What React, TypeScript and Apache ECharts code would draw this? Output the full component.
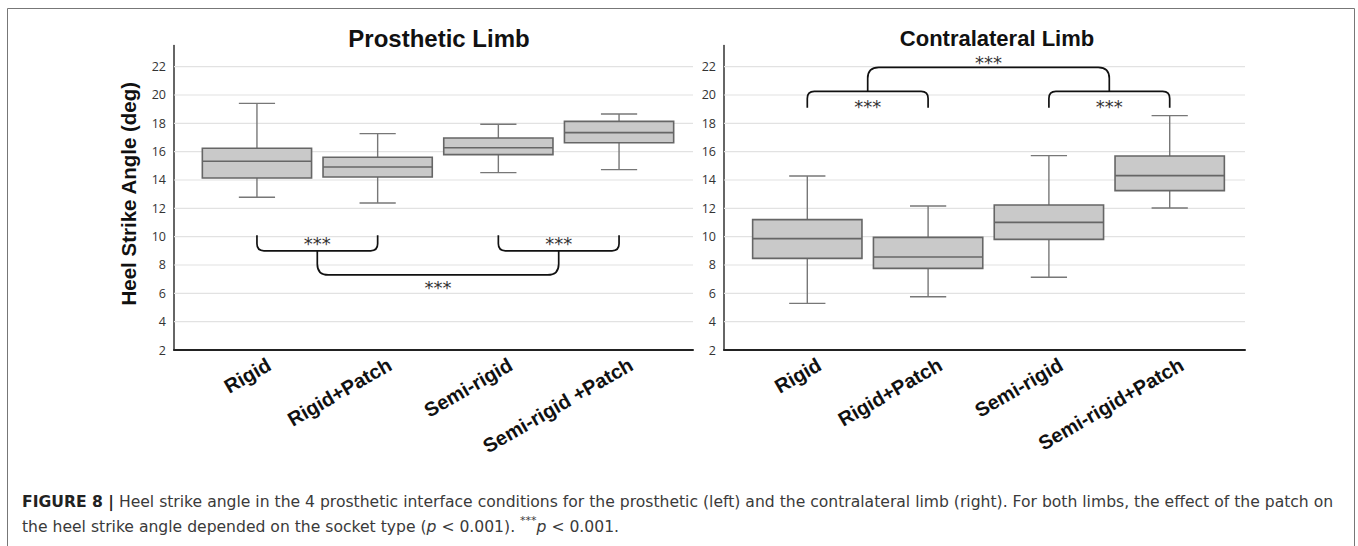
import React, { useEffect, useRef } from "react";
import * as echarts from "echarts";

// ---------- data ----------
const categoriesProsthetic = ["Rigid", "Rigid+Patch", "Semi-rigid", "Semi-rigid +Patch"];
const categoriesContralateral = ["Rigid", "Rigid+Patch", "Semi-rigid", "Semi-rigid+Patch"];
const yTicks = [2, 4, 6, 8, 10, 12, 14, 16, 18, 20, 22];
const yMin = 2;
const yMax = 23.5;

// Prosthetic limb: whisker low, Q1, median, Q3, whisker high
const prosLow = [12.78, 12.38, 14.52, 14.73];
const prosQ1 = [14.14, 14.21, 15.79, 16.63];
const prosMed = [15.32, 14.92, 16.28, 17.34];
const prosQ3 = [16.24, 15.6, 16.96, 18.14];
const prosHigh = [19.41, 17.27, 17.93, 18.66];

// Contralateral limb
const contLow = [5.29, 5.76, 7.13, 12.02];
const contQ1 = [8.47, 7.76, 9.81, 13.25];
const contMed = [9.86, 8.56, 11.01, 14.31];
const contQ3 = [11.2, 9.95, 12.24, 15.69];
const contHigh = [14.28, 12.16, 15.72, 18.54];

// significance brackets: [catA, catB, tipValue, barValue, starsValue]
const prosPairBrackets = [
  [0, 1, 10.1, 9.0, 9.75],
  [2, 3, 10.1, 9.0, 9.75],
];
// outer: [pairA cat0, pairA cat1, pairB cat0, pairB cat1, tipValue, barValue, starsValue]
const prosOuterBracket = [[0, 1, 2, 3, 9.0, 7.3, 6.64]];
const contPairBrackets = [
  [0, 1, 19.1, 20.25, 19.38],
  [2, 3, 19.1, 20.25, 19.38],
];
const contOuterBracket = [[0, 1, 2, 3, 20.25, 21.95, 22.52]];
const starsText = "***";

// ---------- styles ----------
const SANS = "Liberation Sans, Arial, sans-serif";
const CAPTION_FONT = "DejaVu Sans, sans-serif";
const CAPTION_SIZE = 15.6;
const TICK_FONT = "Open Sans, sans-serif";
const BOX_FILL = "#c9c9c9";
const BOX_STROKE = "#666";
const WHISKER = "#777";
const GRIDLINE = "#e2e2e2";

function buildBoxData(lo: number[], q1: number[], med: number[], q3: number[], hi: number[]) {
  return lo.map((v, i) => [i, v, q1[i], med[i], q3[i], hi[i]]);
}

function renderBox(params: any, api: any) {
  const idx = api.value(0);
  const pLo = api.coord([idx, api.value(1)]);
  const pQ1 = api.coord([idx, api.value(2)]);
  const pMed = api.coord([idx, api.value(3)]);
  const pQ3 = api.coord([idx, api.value(4)]);
  const pHi = api.coord([idx, api.value(5)]);
  const band = api.size([1, 0])[0];
  const bw = band * 0.905;
  const cw = band * 0.3;
  const x = pMed[0];
  const wStyle = { stroke: WHISKER, lineWidth: 1.4 };
  return {
    type: "group",
    children: [
      { type: "line", shape: { x1: x, y1: pHi[1], x2: x, y2: pQ3[1] }, style: wStyle },
      { type: "line", shape: { x1: x, y1: pQ1[1], x2: x, y2: pLo[1] }, style: wStyle },
      { type: "line", shape: { x1: x - cw / 2, y1: pHi[1], x2: x + cw / 2, y2: pHi[1] }, style: wStyle },
      { type: "line", shape: { x1: x - cw / 2, y1: pLo[1], x2: x + cw / 2, y2: pLo[1] }, style: wStyle },
      {
        type: "rect",
        shape: { x: x - bw / 2, y: pQ3[1], width: bw, height: pQ1[1] - pQ3[1] },
        style: { fill: BOX_FILL, stroke: BOX_STROKE, lineWidth: 1.6 },
      },
      {
        type: "line",
        shape: { x1: x - bw / 2, y1: pMed[1], x2: x + bw / 2, y2: pMed[1] },
        style: { stroke: BOX_STROKE, lineWidth: 1.6 },
      },
    ],
  };
}

function bracketPath(x0: number, x1: number, yTip: number, yBar: number, r: number) {
  const s = yBar > yTip ? 1 : -1;
  return (
    `M${x0},${yTip} L${x0},${yBar - s * r} Q${x0},${yBar} ${x0 + r},${yBar} ` +
    `L${x1 - r},${yBar} Q${x1},${yBar} ${x1},${yBar - s * r} L${x1},${yTip}`
  );
}

function starsEl(x: number, y: number) {
  return {
    type: "text",
    x,
    y,
    style: {
      text: starsText,
      fontSize: 18,
      fontFamily: "DejaVu Sans, sans-serif",
      fill: "#333",
      align: "center",
      verticalAlign: "middle",
    },
  };
}

function renderPair(params: any, api: any) {
  const a = api.coord([api.value(0), api.value(2)]);
  const b = api.coord([api.value(1), api.value(2)]);
  const yBar = api.coord([api.value(0), api.value(3)])[1];
  const yText = api.coord([api.value(0), api.value(4)])[1];
  return {
    type: "group",
    children: [
      {
        type: "path",
        shape: { pathData: bracketPath(a[0], b[0], a[1], yBar, 7) },
        style: { stroke: "#111", fill: "none", lineWidth: 1.7 },
      },
      starsEl((a[0] + b[0]) / 2, yText + 3),
    ],
  };
}

function renderOuter(params: any, api: any) {
  const a0 = api.coord([api.value(0), api.value(4)]);
  const a1 = api.coord([api.value(1), api.value(4)]);
  const b0 = api.coord([api.value(2), api.value(4)]);
  const b1 = api.coord([api.value(3), api.value(4)]);
  const xA = (a0[0] + a1[0]) / 2;
  const xB = (b0[0] + b1[0]) / 2;
  const yTip = a0[1];
  const yBar = api.coord([api.value(0), api.value(5)])[1];
  const yText = api.coord([api.value(0), api.value(6)])[1];
  return {
    type: "group",
    children: [
      {
        type: "path",
        shape: { pathData: bracketPath(xA, xB, yTip, yBar, 11) },
        style: { stroke: "#111", fill: "none", lineWidth: 1.7 },
      },
      starsEl((xA + xB) / 2, yText + 3),
    ],
  };
}

function renderGridLine(params: any, api: any) {
  const y = api.coord([0, api.value(1)])[1];
  const cs = params.coordSys;
  return {
    type: "line",
    shape: { x1: cs.x, y1: y, x2: cs.x + cs.width, y2: y },
    style: { stroke: GRIDLINE, lineWidth: 1.2 },
  };
}

const gridTop = 45.4;
const gridHeight = 304.6;

function bgYAxis(gridIndex: number, withName: boolean) {
  return {
    type: "value",
    gridIndex,
    min: yMin,
    max: yMax,
    interval: 2,
    splitLine: { show: false },
    axisTick: { show: false },
    axisLine: { show: true, lineStyle: { color: "#333", width: 1.5 } },
    axisLabel: {
      showMaxLabel: false,
      margin: 8,
      fontSize: 12.5,
      fontFamily: TICK_FONT,
      color: "#333",
      formatter: (v: number) => (yTicks.indexOf(v) >= 0 ? String(v) : ""),
    },
    name: withName ? "Heel Strike Angle (deg)" : "",
    nameLocation: "middle",
    nameGap: 35,
    nameRotate: 90,
    nameTextStyle: {
      fontSize: 20.5,
      fontWeight: "bold",
      fontFamily: SANS,
      color: "#111",
      padding: [0, 0, 0, 8],
    },
  };
}

function fgYAxis(gridIndex: number) {
  return { type: "value", gridIndex, min: yMin, max: yMax, show: false, splitLine: { show: false } };
}

function bgXAxis(gridIndex: number, cats: string[]) {
  return {
    type: "category",
    gridIndex,
    data: cats,
    axisTick: { show: false },
    axisLabel: { show: false },
    axisLine: { show: true, lineStyle: { color: "#222", width: 2 } },
    splitLine: { show: false },
  };
}

function fgXAxis(gridIndex: number, cats: string[]) {
  return {
    type: "category",
    gridIndex,
    data: cats,
    axisTick: { show: false },
    axisLine: { show: false },
    splitLine: { show: false },
    axisLabel: {
      rotate: 30,
      margin: 20,
      interval: 0,
      fontSize: 20,
      fontWeight: "bold",
      fontFamily: SANS,
      color: "#111",
      padding: [0, -14, 0, 0],
    },
  };
}

const gridLineData = yTicks.filter((v) => v !== yMin).map((v) => [0, v]);

export default function App() {
  const ref = useRef<HTMLDivElement>(null);
  useEffect(() => {
    if (!ref.current) return;
    const chart = echarts.init(ref.current, undefined, { renderer: "svg" });
    const option: any = {
      animation: false,
      backgroundColor: "#fff",
      title: [
        {
          text: "Prosthetic Limb",
          left: 434,
          top: 21,
          textAlign: "center",
          textStyle: { fontSize: 24, fontWeight: "bold", fontFamily: SANS, color: "#111" },
        },
        {
          text: "Contralateral Limb",
          left: 992,
          top: 22,
          textAlign: "center",
          textStyle: { fontSize: 22, fontWeight: "bold", fontFamily: SANS, color: "#111" },
        },
      ],
      grid: [
        { left: 174, top: gridTop, width: 519, height: gridHeight, outerBoundsMode: "none" },
        { left: 196.6, top: gridTop, width: 482.8, height: gridHeight, outerBoundsMode: "none" },
        { left: 724, top: gridTop, width: 521, height: gridHeight, outerBoundsMode: "none" },
        { left: 746.9, top: gridTop, width: 483.2, height: gridHeight, outerBoundsMode: "none" },
      ],
      xAxis: [
        bgXAxis(0, categoriesProsthetic),
        fgXAxis(1, categoriesProsthetic),
        bgXAxis(2, categoriesContralateral),
        fgXAxis(3, categoriesContralateral),
      ],
      yAxis: [bgYAxis(0, true), fgYAxis(1), bgYAxis(2, false), fgYAxis(3)],
      series: [
        {
          type: "custom",
          xAxisIndex: 0,
          yAxisIndex: 0,
          renderItem: renderGridLine,
          data: gridLineData,
          encode: { x: 0, y: 1 },
          z: 1,
          silent: true,
        },
        {
          type: "custom",
          xAxisIndex: 2,
          yAxisIndex: 2,
          renderItem: renderGridLine,
          data: gridLineData,
          encode: { x: 0, y: 1 },
          z: 1,
          silent: true,
        },
        {
          type: "custom",
          name: "Prosthetic",
          xAxisIndex: 1,
          yAxisIndex: 1,
          renderItem: renderBox,
          data: buildBoxData(prosLow, prosQ1, prosMed, prosQ3, prosHigh),
          encode: { x: 0, y: [1, 2, 3, 4, 5] },
          z: 3,
        },
        {
          type: "custom",
          name: "Contralateral",
          xAxisIndex: 3,
          yAxisIndex: 3,
          renderItem: renderBox,
          data: buildBoxData(contLow, contQ1, contMed, contQ3, contHigh),
          encode: { x: 0, y: [1, 2, 3, 4, 5] },
          z: 3,
        },
        {
          type: "custom",
          xAxisIndex: 1,
          yAxisIndex: 1,
          renderItem: renderPair,
          data: prosPairBrackets,
          encode: { x: 0, y: 2 },
          z: 4,
          silent: true,
        },
        {
          type: "custom",
          xAxisIndex: 1,
          yAxisIndex: 1,
          renderItem: renderOuter,
          data: prosOuterBracket,
          encode: { x: 0, y: 4 },
          z: 4,
          silent: true,
        },
        {
          type: "custom",
          xAxisIndex: 3,
          yAxisIndex: 3,
          renderItem: renderPair,
          data: contPairBrackets,
          encode: { x: 0, y: 2 },
          z: 4,
          silent: true,
        },
        {
          type: "custom",
          xAxisIndex: 3,
          yAxisIndex: 3,
          renderItem: renderOuter,
          data: contOuterBracket,
          encode: { x: 0, y: 4 },
          z: 4,
          silent: true,
        },
      ],
      graphic: [
        {
          type: "rect",
          silent: true,
          shape: { x: 7.5, y: 8.5, width: 1347, height: 560 },
          style: { fill: "none", stroke: "#777", lineWidth: 1 },
        },
        {
          type: "text",
          silent: true,
          x: 22,
          y: 489.5,
          style: {
            text:
              "{b|FIGURE 8 |} Heel strike angle in the 4 prosthetic interface conditions for the prosthetic (left) and the contralateral limb (right). For both limbs, the effect of the patch on\n" +
              "the heel strike angle depended on the socket type ({i|p} < 0.001). {s|***}{i|p} < 0.001.",
            fontSize: CAPTION_SIZE,
            fontFamily: CAPTION_FONT,
            fill: "#3a3a3a",
            lineHeight: 25,
            verticalAlign: "top",
            rich: {
              b: { fontWeight: "bold", fontSize: CAPTION_SIZE, fontFamily: CAPTION_FONT, fill: "#222", lineHeight: 25 },
              i: { fontStyle: "italic", fontSize: CAPTION_SIZE, fontFamily: CAPTION_FONT, fill: "#3a3a3a", lineHeight: 25 },
              s: { fontSize: 11, fontFamily: CAPTION_FONT, fill: "#3a3a3a", lineHeight: 25, verticalAlign: "top" },
            },
          },
        },
      ],
    };
    chart.setOption(option);
    return () => chart.dispose();
  }, []);
  return (
    <div
      ref={ref}
      style={{ position: "fixed", left: 0, top: 0, width: 1358, height: 546, background: "#fff" }}
    />
  );
}
